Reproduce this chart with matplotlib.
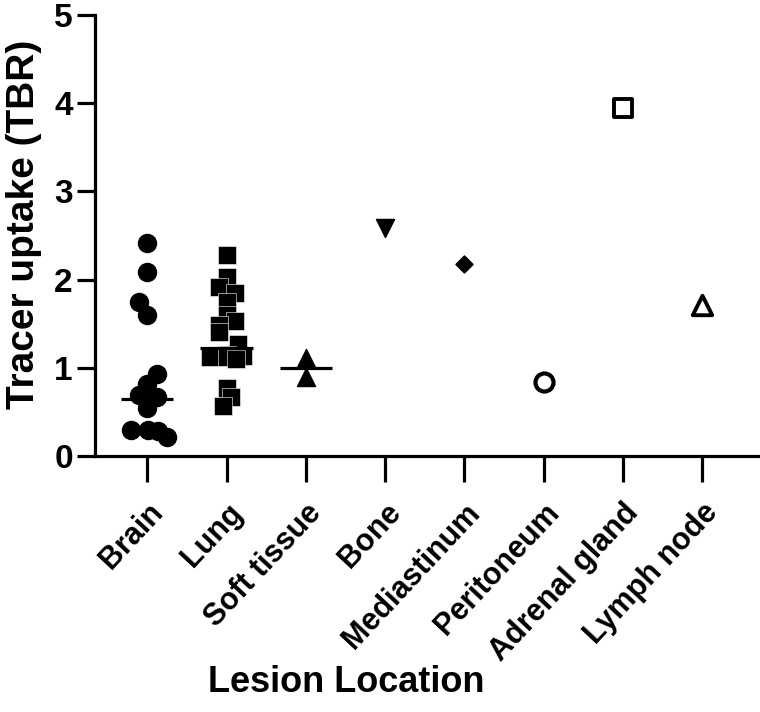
import numpy as np
import matplotlib
matplotlib.use('Agg')
import matplotlib.pyplot as plt
import matplotlib.transforms as mtransforms

plt.rcParams['font.family'] = ['Liberation Sans', 'DejaVu Sans']
plt.rcParams['font.weight'] = 'bold'

categories = ['Brain', 'Lung', 'Soft tissue', 'Bone', 'Mediastinum',
              'Peritoneum', 'Adrenal gland', 'Lymph node']

# TBR values
brain = [2.41, 2.09, 1.75, 1.60, 0.93, 0.82, 0.69, 0.67, 0.63, 0.54,
         0.29, 0.30, 0.28, 0.22]
brain_dx = [0, 0, -0.11, 0, 0.12, 0, -0.11, 0.12, 0, 0,
            -0.21, 0.01, 0.14, 0.25]
lung = [2.28, 2.03, 1.91, 1.85, 1.74, 1.60, 1.53, 1.49, 1.40, 1.27,
        1.15, 1.12, 1.12, 1.13, 1.10, 0.77, 0.67, 0.57]
lung_dx = [0, 0, -0.10, 0.11, 0, 0, 0.11, -0.10, -0.10, 0.14,
           0, -0.21, 0, 0.21, 0.12, 0, 0.06, -0.05]
soft_tissue = [1.11, 0.90]
bone = [2.58]
mediastinum = [2.18]
peritoneum = [0.84]
adrenal = [3.95]
lymph = [1.71]

# median lines (category index, value)
median_idx = [0, 1, 2]
median_val = [0.65, 1.22, 1.00]

fig = plt.figure(figsize=(7.6, 7.12), dpi=100)
ax = fig.add_axes([0.125, 0.3596, 0.872, 0.6194])

ax.scatter(np.array(brain_dx) + 0, brain, marker='o', s=13**2, color='black', zorder=3)
ax.scatter(np.array(lung_dx) + 1, lung, marker='s', s=12.7**2, color='black',
           edgecolors='white', linewidths=0.4, zorder=3)
ax.scatter([2] * len(soft_tissue), soft_tissue, marker='^', s=13**2, color='black', zorder=3)
ax.scatter([3], bone, marker='v', s=13**2, color='black', zorder=3)
ax.scatter([4], mediastinum, marker='D', s=8.7**2, color='black', zorder=3)
ax.scatter([5], peritoneum, marker='o', s=13**2, facecolors='white',
           edgecolors='black', linewidths=3, zorder=3)
ax.scatter([6], adrenal, marker='s', s=13**2, facecolors='white',
           edgecolors='black', linewidths=2.8, zorder=3)
ax.scatter([7], lymph, marker='^', s=14**2, facecolors='white',
           edgecolors='black', linewidths=2.8, zorder=3)

for i, m in zip(median_idx, median_val):
    ax.hlines(m, i - 0.33, i + 0.33, color='black', linewidth=2.3, zorder=4)

ax.set_xlim(-0.66, 7.7)
ax.set_ylim(0, 5)
ax.set_yticks([0, 1, 2, 3, 4, 5])
ax.set_xticks(range(len(categories)))
ax.set_xticklabels(categories, rotation=47, ha='right', va='top',
                   rotation_mode='anchor', fontsize=22, fontweight='bold')
offset = mtransforms.ScaledTranslation(13 / 100, 0, fig.dpi_scale_trans)
for lbl in ax.get_xticklabels():
    lbl.set_transform(lbl.get_transform() + offset)

ax.spines['top'].set_visible(False)
ax.spines['right'].set_visible(False)
ax.spines['left'].set_linewidth(2.3)
ax.spines['bottom'].set_linewidth(2.3)
ax.tick_params(axis='y', length=13, width=2.3, labelsize=24, pad=3)
ax.tick_params(axis='x', length=19, width=2.3, pad=11)
for lbl in ax.get_yticklabels():
    lbl.set_fontweight('bold')

ax.set_ylabel('Tracer uptake (TBR)', fontsize=28, fontweight='bold')
ax.yaxis.set_label_coords(-0.080, 0.524)
fig.text(0.455, 0.042, 'Lesion Location', fontsize=26, fontweight='bold',
         ha='center', va='center')

plt.savefig('out.png', dpi=100)
plt.close()
